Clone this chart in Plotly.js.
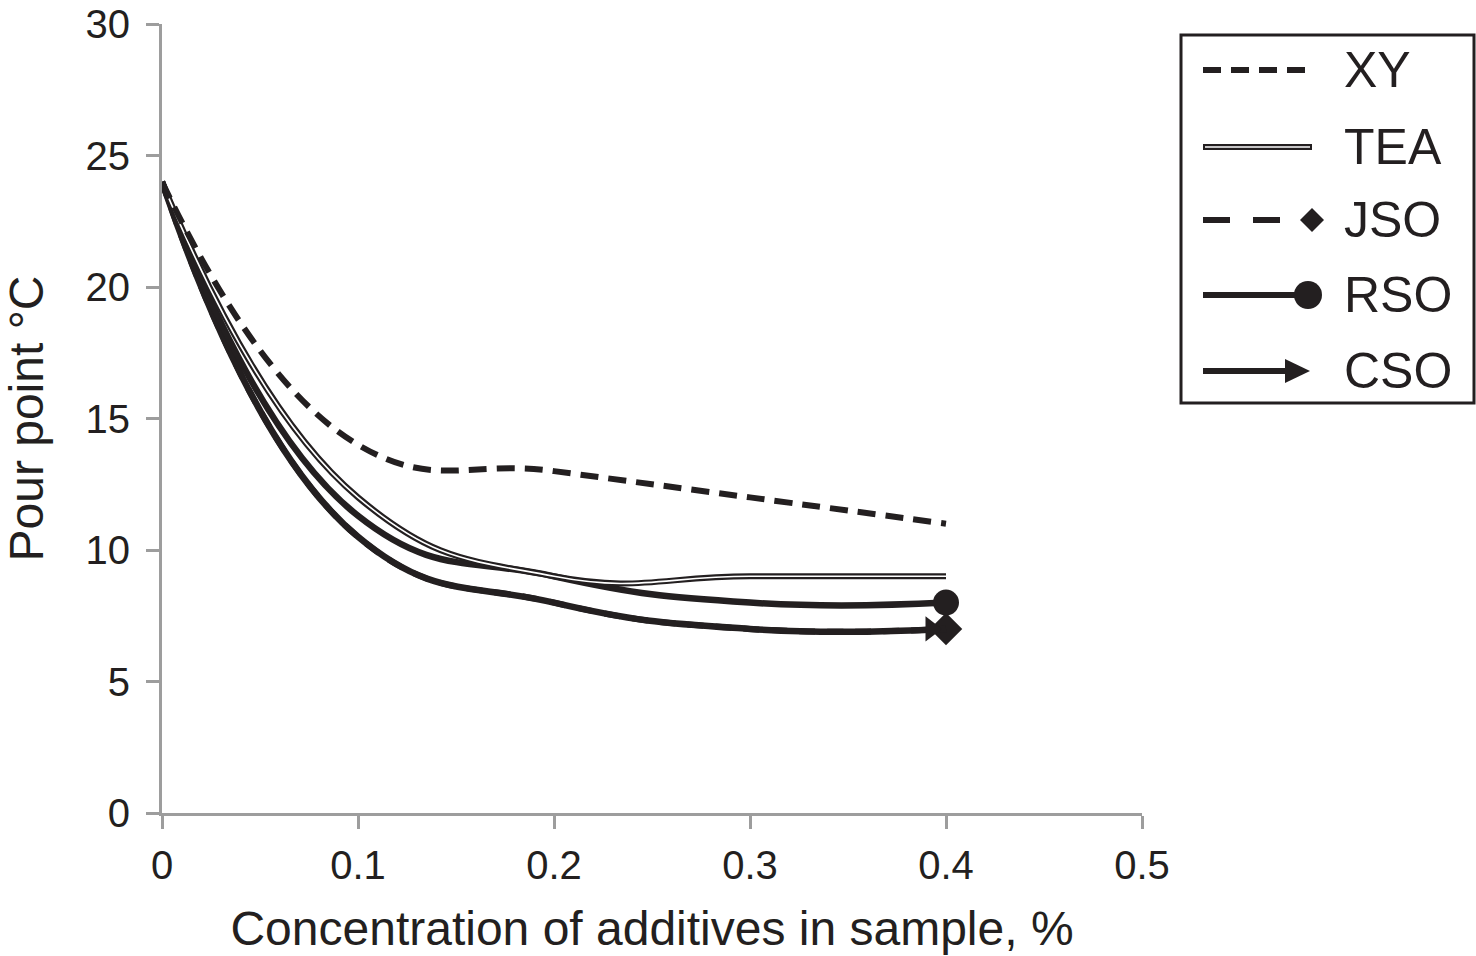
<!DOCTYPE html>
<html>
<head>
<meta charset="utf-8">
<script src="https://cdn.plot.ly/plotly-3.0.1.min.js"></script>
<style>
  html, body { margin: 0; padding: 0; background: #ffffff; }
  #chart { width: 1476px; height: 956px; }
</style>
</head>
<body>
<div id="chart"></div>
<script>
// ---- data ----
var concentration = [0, 0.1, 0.2, 0.3, 0.4];
var xyValues  = [24, 14.0, 13, 12, 11];
var teaValues = [24, 12.0, 9, 9, 9];
var jsoValues = [24, 10.5, 8, 7, 7];
var rsoValues = [24, 11.3, 9, 8, 8];
var csoValues = [24, 10.5, 8, 7, 7];
var seriesNames = ['XY', 'TEA', 'JSO', 'RSO', 'CSO'];
var xTickValues = [0, 0.1, 0.2, 0.3, 0.4, 0.5];
var yTickValues = [0, 5, 10, 15, 20, 25, 30];

// ---- style ----
var INK = '#231f20';
var AXIS = '#9d9d9d';
var FONT = 'Liberation Sans, Arial, Helvetica, sans-serif';
var SMOOTH = 1.3;
var W = 1476, H = 956;
var M = { l: 162, r: 334, t: 24, b: 143 };
var plotW = W - M.l - M.r, plotH = H - M.t - M.b;
function px2x(px) { return (px - M.l) / plotW; }
function py2y(py) { return (H - M.b - py) / plotH; }
function last(a) { return [a[a.length - 1]]; }

var traces = [
  { name: seriesNames[2], x: concentration, y: jsoValues, mode: 'lines', showlegend: false,
    line: { color: INK, width: 6, shape: 'spline', smoothing: SMOOTH, dash: '16px,12px' } },
  { name: seriesNames[2] + ' end', x: last(concentration), y: last(jsoValues), mode: 'markers', showlegend: false,
    marker: { symbol: 'diamond', size: 25, color: INK, opacity: 1, line: { width: 0 } } },
  { name: seriesNames[4], x: concentration, y: csoValues, mode: 'lines', showlegend: false,
    line: { color: INK, width: 6.5, shape: 'spline', smoothing: SMOOTH } },
  { name: seriesNames[4] + ' end', x: last(concentration), y: last(csoValues), mode: 'markers', showlegend: false,
    marker: { symbol: 'triangle-up', angle: 90, standoff: 15, size: 22, color: INK, opacity: 1, line: { width: 0 } } },
  { name: seriesNames[3], x: concentration, y: rsoValues, mode: 'lines', showlegend: false,
    line: { color: INK, width: 6.5, shape: 'spline', smoothing: SMOOTH } },
  { name: seriesNames[3] + ' end', x: last(concentration), y: last(rsoValues), mode: 'markers', showlegend: false,
    marker: { symbol: 'circle', size: 26, color: INK, opacity: 1, line: { width: 0 } } },
  { name: seriesNames[1], x: concentration, y: teaValues, mode: 'lines', showlegend: false,
    line: { color: INK, width: 6, shape: 'spline', smoothing: SMOOTH } },
  { name: seriesNames[1] + ' inner', x: concentration, y: teaValues, mode: 'lines', showlegend: false,
    line: { color: '#ffffff', width: 1.6, shape: 'spline', smoothing: SMOOTH }, hoverinfo: 'skip' },
  { name: seriesNames[0], x: concentration, y: xyValues, mode: 'lines', showlegend: false,
    line: { color: INK, width: 6, shape: 'spline', smoothing: SMOOTH, dash: '18px,10px' } }
];

// ---- manual legend (matching the original's end-marker style) ----
var legendRows = [70, 147, 220, 295, 371];
var lx0 = 1203, lx1 = 1312, textX = 1342;
var shapes = [
  { type: 'rect', xref: 'paper', yref: 'paper', x0: px2x(1181), x1: px2x(1474), y0: py2y(403), y1: py2y(35),
    line: { color: INK, width: 3 }, fillcolor: 'rgba(0,0,0,0)' }
];
shapes.push({ type: 'line', xref: 'paper', yref: 'paper', x0: px2x(lx0), x1: px2x(1310), y0: py2y(legendRows[0]), y1: py2y(legendRows[0]),
  line: { color: INK, width: 6, dash: '18px,10px' } });
shapes.push({ type: 'line', xref: 'paper', yref: 'paper', x0: px2x(lx0), x1: px2x(lx1), y0: py2y(legendRows[1]), y1: py2y(legendRows[1]),
  line: { color: INK, width: 6 } });
shapes.push({ type: 'line', xref: 'paper', yref: 'paper', x0: px2x(lx0 + 2), x1: px2x(lx1 - 2), y0: py2y(legendRows[1]), y1: py2y(legendRows[1]),
  line: { color: '#ffffff', width: 1.6 } });
shapes.push({ type: 'line', xref: 'paper', yref: 'paper', x0: px2x(lx0), x1: px2x(1230), y0: py2y(legendRows[2]), y1: py2y(legendRows[2]),
  line: { color: INK, width: 6 } });
shapes.push({ type: 'line', xref: 'paper', yref: 'paper', x0: px2x(1253), x1: px2x(1280), y0: py2y(legendRows[2]), y1: py2y(legendRows[2]),
  line: { color: INK, width: 6 } });
(function () {
  var cx = 1312, cy = legendRows[2], r = 12;
  shapes.push({ type: 'path', xref: 'paper', yref: 'paper',
    path: 'M' + px2x(cx - r) + ',' + py2y(cy) + ' L' + px2x(cx) + ',' + py2y(cy - r) + ' L' + px2x(cx + r) + ',' + py2y(cy) + ' L' + px2x(cx) + ',' + py2y(cy + r) + ' Z',
    fillcolor: INK, line: { width: 0 } });
})();
shapes.push({ type: 'line', xref: 'paper', yref: 'paper', x0: px2x(lx0), x1: px2x(1300), y0: py2y(legendRows[3]), y1: py2y(legendRows[3]),
  line: { color: INK, width: 6 } });
shapes.push({ type: 'circle', xref: 'paper', yref: 'paper', x0: px2x(1294), x1: px2x(1322), y0: py2y(legendRows[3] + 14), y1: py2y(legendRows[3] - 14),
  fillcolor: INK, line: { width: 0 } });
shapes.push({ type: 'line', xref: 'paper', yref: 'paper', x0: px2x(lx0), x1: px2x(1290), y0: py2y(legendRows[4]), y1: py2y(legendRows[4]),
  line: { color: INK, width: 6 } });
shapes.push({ type: 'path', xref: 'paper', yref: 'paper',
  path: 'M' + px2x(1285) + ',' + py2y(legendRows[4] - 12) + ' L' + px2x(1310) + ',' + py2y(legendRows[4]) + ' L' + px2x(1285) + ',' + py2y(legendRows[4] + 12) + ' Z',
  fillcolor: INK, line: { width: 0 } });

var annotations = seriesNames.map(function (nm, i) {
  return { xref: 'paper', yref: 'paper', x: px2x(textX), y: py2y(legendRows[i]), text: nm, showarrow: false,
    xanchor: 'left', yanchor: 'middle', font: { family: FONT, size: 50, color: INK } };
});

var layout = {
  width: W, height: H,
  margin: M,
  paper_bgcolor: '#ffffff', plot_bgcolor: '#ffffff',
  showlegend: false,
  font: { family: FONT, color: INK },
  xaxis: {
    range: [0, 0.5], tickvals: xTickValues, ticktext: xTickValues.map(String),
    showgrid: false, zeroline: false, showline: true, linecolor: AXIS, linewidth: 3,
    ticks: 'outside', ticklen: 13, tickwidth: 3, tickcolor: AXIS, ticklabelstandoff: 2,
    tickfont: { family: FONT, size: 40, color: INK },
    title: { text: 'Concentration of additives in sample, %', font: { family: FONT, size: 48, color: INK }, standoff: 26 }
  },
  yaxis: {
    range: [0, 30], tickvals: yTickValues, ticktext: yTickValues.map(String),
    showgrid: false, zeroline: false, showline: true, linecolor: AXIS, linewidth: 3,
    ticks: 'outside', ticklen: 13, tickwidth: 3, tickcolor: AXIS, ticklabelstandoff: 8,
    tickfont: { family: FONT, size: 40, color: INK },
    title: { text: 'Pour point °C', font: { family: FONT, size: 48, color: INK }, standoff: 27 }
  },
  shapes: shapes,
  annotations: annotations
};

Plotly.newPlot('chart', traces, layout, { displayModeBar: false, staticPlot: true });
</script>
</body>
</html>
